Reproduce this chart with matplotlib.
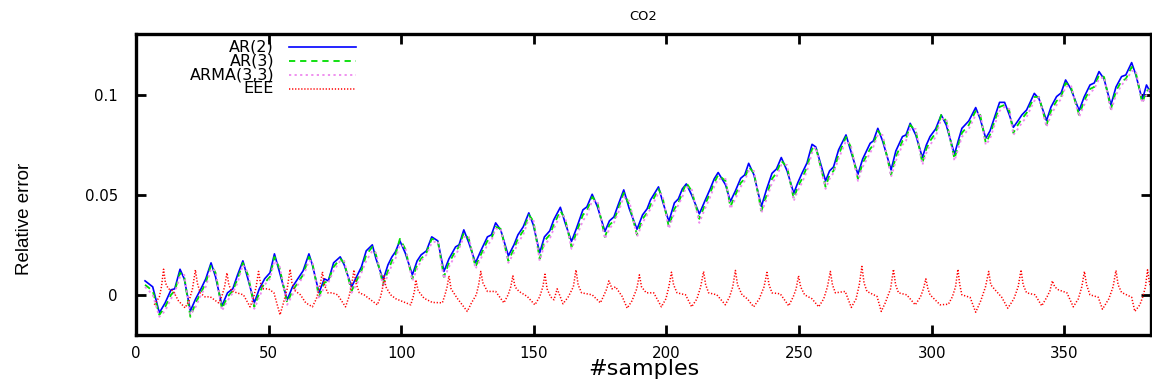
import matplotlib
matplotlib.use("Agg")
import matplotlib.pyplot as plt
from matplotlib.lines import Line2D

# ---------------- data ----------------
title = "CO2"
xlabel = "#samples"
ylabel = "Relative error"
series_names = ["AR(2)", "AR(3)", "ARMA(3,3)", "EEE"]
x_ticks = [0, 50, 100, 150, 200, 250, 300, 350]
y_ticks = [0, 0.05, 0.1]
y_tick_labels = ["0", "0.05", "0.1"]

samples_fit = [
    3.4, 6.3,
    8.8, 11, 13.2, 14.6, 16.6, 18.2,
    20.5, 22.5, 24.5, 26.3, 28.3, 30,
    32.4, 34.5, 36.5, 38.3, 40.3, 42.2,
    44.6, 46.5, 48.5, 50.5, 52.2, 54.2,
    57, 59, 61, 63, 65.2, 66.5,
    69, 71, 72.5, 74.5, 77, 78.5,
    81.3, 83.5, 85, 86.8, 89.1, 90.5,
    93.2, 95, 96.5, 97.8, 99.5, 101.5,
    104.2, 106, 107.5, 109.5, 111.5, 113.8,
    116.1, 118, 120.5, 121.8, 123.6, 125.5,
    128, 130, 132.5, 134, 135.6, 137.5,
    140.4, 142.5, 144, 146, 148.1, 149.8,
    152.2, 154, 156, 157.5, 160, 161.8,
    164.2, 166, 168.5, 170, 172, 174,
    176.8, 178.5, 180.2, 181.8, 183.9, 186,
    188.9, 191, 192.7, 194, 197, 198.5,
    200.9, 203, 204.5, 206, 207.5, 209.5,
    212.4, 214.5, 216.5, 218, 219.5, 222.3,
    224.1, 226, 228, 229.5, 231, 233,
    235.8, 237.8, 239.8, 241.5, 243.3, 245.5,
    248, 249.5, 251.1, 253, 254.9, 256.3,
    260, 261.5, 263, 264.9, 267.7, 269.5,
    272.2, 274, 276.8, 278, 279.7, 281.5,
    284.7, 286.5, 289, 290.3, 291.9, 294,
    296.5, 298, 299.4, 301.5, 303.6, 305.5,
    308.6, 310, 311.4, 314, 316.6, 318.3,
    320.4, 322, 324, 325.6, 327.5, 329.3,
    330.8, 332.5, 334, 335.8, 338.7, 340.5,
    343.3, 345, 347.1, 348.8, 350.5, 352.5,
    355.6, 357.5, 359.7, 361.3, 363.1, 365,
    367.6, 369.5, 371.6, 373.2, 375.4, 377,
    379.4, 381, 382.6,
]

ar2 = [
    0.007, 0.004,
    -0.009, -0.004, 0.0025, 0.003, 0.0128, 0.008,
    -0.008, -0.002, 0.003, 0.008, 0.016, 0.009,
    -0.0055, 0.001, 0.003, 0.010, 0.017, 0.008,
    -0.004, 0.003, 0.008, 0.011, 0.0205, 0.011,
    -0.0025, 0.004, 0.008, 0.012, 0.0205, 0.015,
    0.001, 0.008, 0.007, 0.016, 0.019, 0.015,
    0.004, 0.010, 0.014, 0.022, 0.025, 0.018,
    0.0075, 0.015, 0.019, 0.0215, 0.027, 0.021,
    0.010, 0.017, 0.020, 0.022, 0.029, 0.027,
    0.0117, 0.018, 0.024, 0.025, 0.0325, 0.026,
    0.016, 0.022, 0.029, 0.030, 0.036, 0.0325,
    0.0195, 0.025, 0.030, 0.034, 0.041, 0.035,
    0.021, 0.029, 0.032, 0.0375, 0.0438, 0.036,
    0.0267, 0.033, 0.0425, 0.044, 0.0503, 0.044,
    0.0317, 0.037, 0.039, 0.045, 0.0525, 0.043,
    0.0328, 0.040, 0.043, 0.0475, 0.054, 0.047,
    0.0367, 0.046, 0.048, 0.053, 0.0555, 0.050,
    0.0405, 0.047, 0.053, 0.058, 0.0612, 0.055,
    0.0467, 0.052, 0.0583, 0.060, 0.0658, 0.060,
    0.0442, 0.053, 0.0608, 0.063, 0.0687, 0.062,
    0.0508, 0.056, 0.0608, 0.066, 0.0753, 0.074,
    0.057, 0.062, 0.064, 0.0725, 0.080, 0.072,
    0.0603, 0.068, 0.0758, 0.077, 0.0833, 0.077,
    0.0625, 0.072, 0.0792, 0.080, 0.0858, 0.080,
    0.0687, 0.075, 0.0792, 0.083, 0.090, 0.085,
    0.0703, 0.077, 0.0833, 0.087, 0.0937, 0.088,
    0.0783, 0.082, 0.090, 0.0963, 0.0963, 0.090,
    0.0838, 0.087, 0.090, 0.0925, 0.1008, 0.098,
    0.0872, 0.094, 0.0992, 0.101, 0.1075, 0.103,
    0.0922, 0.099, 0.105, 0.106, 0.1117, 0.108,
    0.095, 0.104, 0.1092, 0.110, 0.1162, 0.110,
    0.0975, 0.105, 0.101,
]

ar3 = [
    0.005, 0.002,
    -0.010, -0.006, 0.000, 0.002, 0.011, 0.009,
    -0.011, -0.004, 0.001, 0.006, 0.015, 0.011,
    -0.007, -0.001, 0.002, 0.008, 0.016, 0.010,
    -0.006, 0.001, 0.006, 0.009, 0.019, 0.013,
    -0.004, 0.002, 0.006, 0.010, 0.019, 0.016,
    -0.001, 0.006, 0.007, 0.014, 0.018, 0.016,
    0.002, 0.008, 0.012, 0.020, 0.024, 0.020,
    0.005, 0.012, 0.017, 0.020, 0.028, 0.023,
    0.008, 0.015, 0.018, 0.021, 0.028, 0.027,
    0.009, 0.016, 0.022, 0.024, 0.031, 0.028,
    0.014, 0.020, 0.027, 0.028, 0.034, 0.033,
    0.017, 0.023, 0.028, 0.032, 0.040, 0.037,
    0.018, 0.027, 0.030, 0.035, 0.042, 0.038,
    0.024, 0.031, 0.040, 0.042, 0.049, 0.046,
    0.029, 0.035, 0.037, 0.043, 0.051, 0.045,
    0.030, 0.038, 0.041, 0.045, 0.053, 0.049,
    0.034, 0.043, 0.046, 0.051, 0.056, 0.052,
    0.038, 0.045, 0.051, 0.056, 0.060, 0.057,
    0.044, 0.050, 0.056, 0.058, 0.064, 0.061,
    0.042, 0.050, 0.058, 0.061, 0.067, 0.064,
    0.048, 0.054, 0.058, 0.064, 0.073, 0.074,
    0.054, 0.060, 0.062, 0.070, 0.079, 0.074,
    0.058, 0.066, 0.073, 0.075, 0.082, 0.079,
    0.060, 0.069, 0.077, 0.078, 0.085, 0.082,
    0.066, 0.073, 0.077, 0.081, 0.090, 0.087,
    0.068, 0.075, 0.081, 0.085, 0.092, 0.090,
    0.076, 0.080, 0.088, 0.094, 0.095, 0.092,
    0.081, 0.085, 0.088, 0.091, 0.099, 0.099,
    0.085, 0.092, 0.097, 0.099, 0.106, 0.104,
    0.090, 0.097, 0.103, 0.104, 0.110, 0.109,
    0.093, 0.102, 0.107, 0.108, 0.114, 0.111,
    0.096, 0.102, 0.103,
]

arma33 = [
    0.004, 0.000,
    -0.011, -0.008, -0.002, 0.001, 0.009, 0.010,
    -0.010, -0.006, 0.000, 0.004, 0.013, 0.012,
    -0.008, -0.003, 0.001, 0.006, 0.015, 0.011,
    -0.007, -0.001, 0.005, 0.008, 0.017, 0.014,
    -0.005, 0.000, 0.005, 0.009, 0.017, 0.017,
    -0.002, 0.004, 0.006, 0.012, 0.017, 0.017,
    0.001, 0.006, 0.011, 0.017, 0.022, 0.021,
    0.004, 0.010, 0.015, 0.018, 0.025, 0.024,
    0.007, 0.013, 0.017, 0.020, 0.026, 0.027,
    0.008, 0.014, 0.020, 0.023, 0.029, 0.029,
    0.013, 0.018, 0.025, 0.027, 0.033, 0.033,
    0.016, 0.021, 0.026, 0.030, 0.038, 0.038,
    0.017, 0.025, 0.028, 0.033, 0.040, 0.039,
    0.023, 0.029, 0.037, 0.040, 0.047, 0.047,
    0.028, 0.033, 0.036, 0.041, 0.049, 0.047,
    0.029, 0.036, 0.040, 0.043, 0.051, 0.050,
    0.033, 0.041, 0.045, 0.049, 0.054, 0.053,
    0.036, 0.043, 0.049, 0.054, 0.058, 0.058,
    0.043, 0.048, 0.054, 0.057, 0.062, 0.062,
    0.041, 0.048, 0.056, 0.059, 0.065, 0.065,
    0.047, 0.052, 0.056, 0.062, 0.071, 0.074,
    0.053, 0.058, 0.061, 0.068, 0.077, 0.075,
    0.057, 0.064, 0.071, 0.074, 0.080, 0.080,
    0.059, 0.067, 0.075, 0.077, 0.083, 0.083,
    0.065, 0.071, 0.075, 0.079, 0.088, 0.088,
    0.067, 0.073, 0.079, 0.083, 0.090, 0.091,
    0.075, 0.078, 0.086, 0.092, 0.094, 0.093,
    0.080, 0.083, 0.086, 0.089, 0.097, 0.099,
    0.084, 0.090, 0.095, 0.098, 0.104, 0.105,
    0.089, 0.095, 0.101, 0.103, 0.108, 0.109,
    0.092, 0.100, 0.105, 0.107, 0.112, 0.112,
    0.096, 0.100, 0.104,
]

samples_eee = [
    6.9, 8.8, 9.6, 10.4, 11.1, 12.2, 14, 16, 18.5,
    20, 21.3, 22.4, 23.1, 24.2, 26, 28, 31.1,
    32.3, 33.4, 34.3, 35, 36, 38, 40.5, 43,
    44.2, 45.3, 46.2, 46.9, 48, 50, 52, 54.3,
    55.6, 57, 58.1, 58.8, 60, 62, 64, 66.5,
    68, 69.3, 70.3, 71, 72.3, 74, 76, 79,
    80.3, 81.3, 82.2, 82.9, 84.2, 86, 88.5, 91,
    92.2, 92.9, 93.5, 94.2, 96, 98, 100.4, 103.6,
    104.5, 105, 105.5, 106.4, 108.6, 111.7, 115.5,
    116.5, 117.3, 118, 118.8, 121.1, 124.9, 126.5,
    128.3, 129.2, 130, 130.8, 132.5, 135.6, 138.7,
    140.3, 141.3, 142.1, 142.9, 144.4, 147.5, 150.4,
    152.2, 153.4, 154.2, 155, 156.3, 157.6, 158.8, 161,
    163, 164.9, 165.9, 166.7, 168, 172, 175.1,
    176.5, 177.5, 178.3, 179.5, 180.8, 183.3, 185.2,
    187, 188.8, 189.8, 190.6, 192.4, 195.2, 198.1,
    199.8, 200.9, 201.9, 202.7, 204, 207.2, 209.5,
    211.5, 212.9, 214, 214.8, 215.9, 219, 222.2,
    223.8, 225, 226, 226.8, 228.5, 230.5, 232.9,
    235, 236.8, 237.9, 238.7, 239.8, 242.9, 246.1,
    247.8, 248.9, 249.8, 250.6, 252.1, 254.9, 257.4,
    259.3, 260.7, 261.8, 262.6, 263.7, 267.4, 269.7,
    271.5, 272.7, 273.7, 274.5, 275.6, 279.4, 281, 282.5,
    284.5, 285.6, 286.4, 287.5, 290.6, 293.8,
    295.8, 296.9, 297.8, 298.6, 299.4, 303.2, 306.3,
    307.8, 309, 309.9, 310.6, 311.4, 314.5, 316.6,
    318.5, 320.3, 321.5, 322.3, 323.9, 326.4, 328.7,
    331, 332.6, 333.7, 334.5, 335.8, 339, 341.5,
    343.5, 344.6, 345.5, 346.4, 347.8, 351, 353.4,
    355.3, 356.6, 357.6, 358.4, 359.7, 362.8, 364.4,
    366.8, 368.4, 369.5, 370.3, 371.6, 375.4, 376.6, 378.5,
    379.6, 380.6, 381.4, 382.1, 382.6,
]

eee = [
    -0.005, -0.001, 0.004, 0.0128, 0.006, 0.003, 0.002, -0.003, -0.0065,
    -0.003, 0.003, 0.0125, 0.006, 0.001, -0.001, -0.001, -0.004,
    -0.001, 0.004, 0.011, 0.005, 0.002, 0.001, 0.000, -0.006,
    -0.002, 0.004, 0.0117, 0.006, 0.003, 0.003, 0.001, -0.010,
    -0.004, 0.003, 0.0128, 0.006, 0.002, 0.000, -0.004, -0.006,
    -0.002, 0.004, 0.0115, 0.005, 0.001, 0.001, 0.000, -0.006,
    -0.001, 0.005, 0.0125, 0.006, 0.001, 0.000, -0.0025, -0.005,
    -0.001, 0.003, 0.0095, 0.004, 0.000, -0.002, -0.0033, -0.005,
    -0.001, 0.002, 0.0075, 0.002, -0.0017, -0.0038, -0.004,
    0.000, 0.004, 0.0095, 0.003, -0.0017, -0.0083, -0.004,
    0.000, 0.005, 0.0117, 0.006, 0.0017, 0.0017, -0.004,
    0.000, 0.004, 0.0095, 0.004, 0.0017, -0.0008, -0.005,
    -0.001, 0.004, 0.0103, 0.003, -0.001, -0.0025, 0.003, -0.0045,
    -0.001, 0.004, 0.0125, 0.005, 0.001, 0.000, -0.004,
    0.000, 0.003, 0.007, 0.003, 0.004, -0.0008, -0.0067,
    -0.003, 0.003, 0.010, 0.004, 0.001, 0.001, -0.006,
    -0.002, 0.004, 0.0113, 0.005, 0.001, 0.000, -0.006,
    -0.002, 0.004, 0.0117, 0.005, 0.001, 0.000, -0.005,
    -0.001, 0.004, 0.0122, 0.005, 0.000, -0.002, -0.006,
    -0.002, 0.004, 0.0112, 0.005, 0.001, 0.0005, -0.0055,
    -0.001, 0.003, 0.0095, 0.004, 0.000, -0.002, -0.006,
    -0.002, 0.004, 0.0117, 0.005, 0.001, 0.0017, -0.0063,
    -0.002, 0.005, 0.0142, 0.006, 0.0017, -0.0008, -0.0083, -0.004,
    0.003, 0.0128, 0.005, 0.001, 0.000, -0.005,
    -0.001, 0.003, 0.008, 0.003, 0.000, -0.005, -0.0047,
    -0.001, 0.004, 0.0128, 0.005, 0.000, -0.0013, -0.0087,
    -0.003, 0.004, 0.0117, 0.005, 0.0025, -0.0012, -0.0067,
    -0.002, 0.004, 0.0125, 0.005, 0.001, 0.000, -0.0055,
    -0.001, 0.002, 0.007, 0.004, 0.0025, 0.001, -0.006,
    -0.002, 0.004, 0.0117, 0.005, 0.000, -0.0012, -0.0072,
    -0.002, 0.004, 0.0122, 0.005, 0.0012, -0.0012, -0.0083, -0.005,
    -0.001, 0.004, 0.0125, 0.006, 0.004,
]

assert len(samples_fit) == len(ar2) == len(ar3) == len(arma33)
assert len(samples_eee) == len(eee)

# ---------------- styling ----------------
plt.rcParams["lines.scale_dashes"] = False
plt.rcParams["font.family"] = ["DejaVu Sans"]

W, H = 1152, 385
fig = plt.figure(figsize=(W / 100, H / 100), dpi=100)
left_px, right_px, top_px, bot_px = 136, 1151, 34, 335
ax = fig.add_axes([left_px / W, 1 - bot_px / H, (right_px - left_px) / W, (bot_px - top_px) / H])

styles = [
    dict(color="#0000ff", lw=1.2, ls="-"),
    dict(color="#00dd00", lw=1.3, ls=(0, (4.5, 3.5))),
    dict(color="#ee88ee", lw=1.3, ls=(0, (1.6, 2.4))),
    dict(color="#ff0000", lw=1.1, ls=(0, (0.9, 1.3))),
]
data = [(samples_fit, ar2), (samples_fit, ar3), (samples_fit, arma33), (samples_eee, eee)]
for (xs, ys), st in zip(data, styles):
    ax.plot(xs, ys, **st)

ax.set_xlim(0, 382.7)
ax.set_ylim(-0.0201, 0.1305)
ax.set_xticks(x_ticks)
ax.set_xticklabels([str(t) for t in x_ticks])
ax.set_yticks(y_ticks)
ax.set_yticklabels(y_tick_labels)
ax.tick_params(direction="in", length=7, width=2, top=True, right=True,
               labelsize=10.8, colors="black")
ax.tick_params(axis="x", pad=8)
ax.tick_params(axis="y", pad=13)
for sp in ax.spines.values():
    sp.set_linewidth(2.4)

ax.set_title(title, fontsize=9.4, pad=10)
ax.set_xlabel(xlabel, fontsize=16)
ax.xaxis.set_label_coords(0.5, (bot_px - 359) / (bot_px - top_px))

ax.set_ylabel(ylabel, fontsize=13.5, family=["Liberation Sans", "DejaVu Sans"])
ax.yaxis.set_label_coords((33 - left_px) / (right_px - left_px), (bot_px - 219) / (bot_px - top_px))

# gnuplot-style key: right-aligned labels followed by line samples
key_rows_px = [47, 61, 75, 89]
tx = (274 - left_px) / (right_px - left_px)
lx0 = (289 - left_px) / (right_px - left_px)
lx1 = (356 - left_px) / (right_px - left_px)
for name, st, rp in zip(series_names, styles, key_rows_px):
    yy = (bot_px - rp) / (bot_px - top_px)
    ax.text(tx, yy, name, transform=ax.transAxes, ha="right", va="center", fontsize=11.5)
    ax.add_line(Line2D([lx0, lx1], [yy, yy], transform=ax.transAxes, **st))

fig.savefig("out.png", dpi=100)
